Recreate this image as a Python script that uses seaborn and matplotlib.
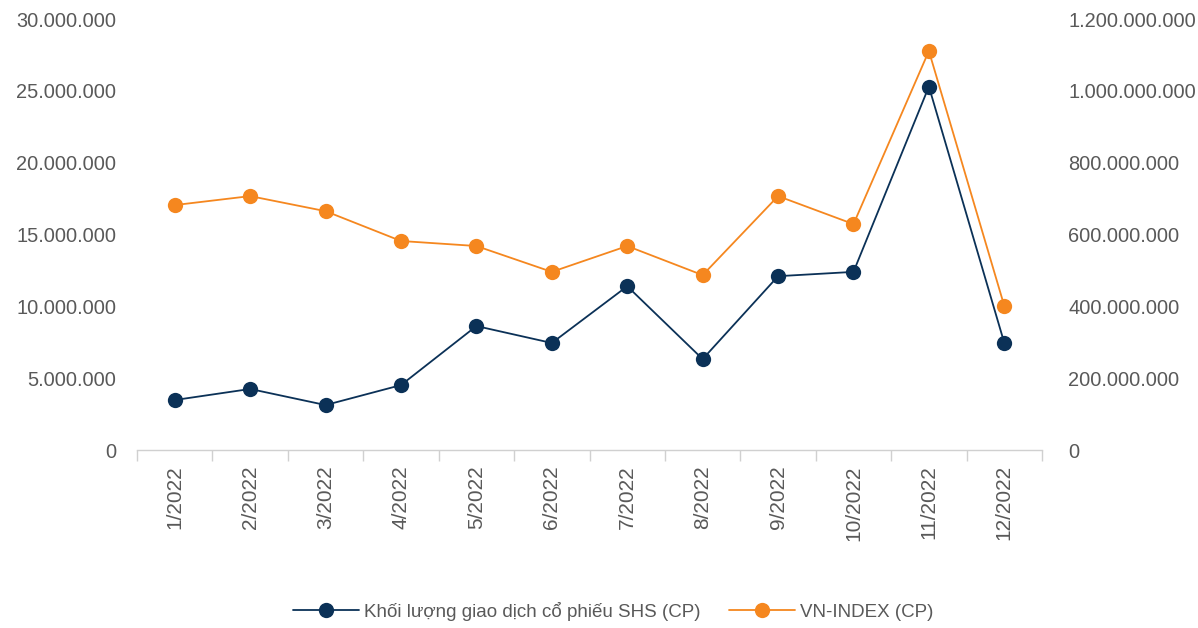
import matplotlib
matplotlib.use('Agg')
import matplotlib.pyplot as plt
import matplotlib.ticker as mticker
from matplotlib.lines import Line2D
import pandas as pd
import seaborn as sns

months = ['1/2022', '2/2022', '3/2022', '4/2022', '5/2022', '6/2022',
          '7/2022', '8/2022', '9/2022', '10/2022', '11/2022', '12/2022']
shs_volume = [3480000, 4250000, 3130000, 4520000, 8630000, 7450000,
              11400000, 6330000, 12100000, 12400000, 25300000, 7450000]
vnindex_volume = [682000000, 707000000, 665000000, 582000000, 568000000, 496000000,
                  568000000, 487000000, 707000000, 629000000, 1111000000, 401000000]

navy = '#0b3157'
orange = '#f5871f'
grey_txt = '#595959'

sns.set_theme(style='white')
plt.rcParams['font.family'] = ['Liberation Sans', 'DejaVu Sans']

df = pd.DataFrame({'pos': range(len(months)), 'month': months,
                   'shs': shs_volume, 'vn': vnindex_volume})

fig = plt.figure(figsize=(11.98, 6.28), dpi=100)
ax = fig.add_axes([0.1144, 0.2834, 0.7554, 0.6863])
ax2 = ax.twinx()

sns.lineplot(data=df, x='pos', y='shs', ax=ax, color=navy, linewidth=1.3,
             marker='o', markersize=11, markeredgewidth=0, zorder=3)
sns.lineplot(data=df, x='pos', y='vn', ax=ax2, color=orange, linewidth=1.3,
             marker='o', markersize=11, markeredgewidth=0, zorder=3)

ax.set_xlim(-0.5, len(months) - 0.5)
ax.set_ylim(0, 30000000)
ax2.set_ylim(0, 1200000000)
ax.set_yticks(range(0, 30000001, 5000000))
ax2.set_yticks(range(0, 1200000001, 200000000))

dotfmt = mticker.FuncFormatter(lambda v, p: f'{int(v):,}'.replace(',', '.'))
ax.yaxis.set_major_formatter(dotfmt)
ax2.yaxis.set_major_formatter(dotfmt)

ax.set_xticks(range(len(months)))
ax.set_xticklabels(months, rotation=90)
ax.set_xticks([i - 0.5 for i in range(len(months) + 1)], minor=True)
ax.tick_params(axis='x', which='major', length=0, pad=11, labelsize=15, labelcolor=grey_txt)
ax.tick_params(axis='x', which='minor', length=8, width=1, color='#d0d0d0', bottom=True)
ax.tick_params(axis='y', length=0, pad=15, labelsize=14.4, labelcolor=grey_txt)
ax2.tick_params(axis='y', length=0, pad=19, labelsize=14.4, labelcolor=grey_txt)

for a in (ax, ax2):
    a.set_xlabel('')
    a.set_ylabel('')
    for s in ['top', 'left', 'right', 'bottom']:
        a.spines[s].set_visible(False)
ax.spines['bottom'].set_visible(True)
ax.spines['bottom'].set_color('#d0d0d0')
ax.spines['bottom'].set_linewidth(1)
ax.grid(False)
ax2.grid(False)

handles = [
    Line2D([0], [0], color=navy, linewidth=1.3, marker='o', markersize=11, markeredgewidth=0),
    Line2D([0], [0], color=orange, linewidth=1.3, marker='o', markersize=11, markeredgewidth=0),
]
fig.legend(handles, ['Khối lượng giao dịch cổ phiếu SHS (CP)', 'VN-INDEX (CP)'],
           loc='center', bbox_to_anchor=(0.512, 0.027), ncol=2, frameon=False,
           fontsize=13.5, handlelength=3.5, columnspacing=1.5, handletextpad=0.3,
           labelcolor=grey_txt)

fig.savefig('out.png', dpi=100)
